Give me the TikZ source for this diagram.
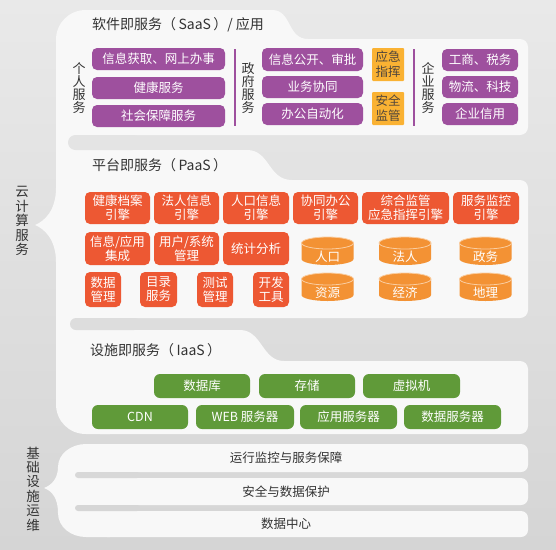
\documentclass[tikz,border=0pt]{standalone}
\usepackage{fontspec}
\setmainfont{Noto Sans CJK SC}
\definecolor{purp}{RGB}{158,80,158}
\definecolor{yel}{RGB}{250,178,51}
\definecolor{ytext}{RGB}{80,70,60}
\definecolor{redc}{RGB}{237,88,51}
\definecolor{cylc}{RGB}{243,146,52}
\definecolor{cyledge}{RGB}{250,205,160}
\definecolor{grn}{RGB}{96,154,57}
\definecolor{panelc}{RGB}{248,248,248}
\definecolor{dark}{RGB}{51,51,51}
\definecolor{bgtop}{RGB}{233,233,233}
\definecolor{bgbot}{RGB}{213,213,213}
\definecolor{bandA}{RGB}{228,228,228}
\definecolor{bandB}{RGB}{221,221,221}
\definecolor{bandC}{RGB}{216,216,216}
\definecolor{bandD}{RGB}{214,214,214}
\newcommand\bx[7]{\node[#1, minimum width={(#5-#3)*1pt}, minimum height={(#6-#4)*1pt}] (#2) at ({(#3+#5)/2},{(#4+#6)/2}) {#7};}
\newcommand\dbcyl[4]{%
 \fill[cylc] ({#1-26},#2) -- ({#1-26},{#2+16}) arc[start angle=180, end angle=0, x radius=26, y radius=6] -- ({#1+26},#2) -- cycle;
 \draw[cyledge, fill=cylc, line width=0.8pt] (#1,#2) ellipse[x radius=26, y radius=6];
 \node[cyltxt] (#4) at (#1,{#2+13.5}) {#3};}
\begin{document}
\begin{tikzpicture}[x=1pt,y=-1pt,
  box/.style={inner sep=0pt, outer sep=0pt, align=center, rounded corners=5pt},
  pbox/.style={box, fill=purp, text=white, font=\fontsize{12.5}{14}\selectfont},
  ybox/.style={box, rounded corners=1pt, fill=yel, text=ytext, font=\fontsize{12.5}{15}\selectfont},
  rbox/.style={box, fill=redc, text=white, font=\fontsize{12.5}{14}\selectfont},
  gbox/.style={box, rounded corners=6pt, fill=grn, text=white, font=\fontsize{12.5}{14}\selectfont},
  ttl/.style={anchor=west, inner sep=0pt, text=dark, font=\fontsize{14}{16}\selectfont},
  vlab/.style={inner sep=0pt, align=center, text=dark, font=\fontsize{13}{13.2}\selectfont},
  biglab/.style={inner sep=0pt, align=center, text=dark, font=\fontsize{13.5}{14.4}\selectfont},
  rowt/.style={inner sep=0pt, text=dark, font=\fontsize{12.5}{14}\selectfont},
  cyltxt/.style={inner sep=0pt, text=white, font=\fontsize{12.5}{14}\selectfont},
  sep/.style={purp, line width=1.5pt},
]
\useasboundingbox (0,0) rectangle (556,549);
\begin{scope}[y=1pt]
\shade[top color=bgtop, bottom color=bgbot] (0,-549) rectangle (556,0);
\end{scope}

% cloud services white shape
\fill[panelc] (86,10) -- (110,10) -- (110,434) -- (86,434) .. controls (69,434) and (56,421) .. (56,404) -- (56,262) .. controls (56,240) and (45,229) .. (35,225) .. controls (45,221) and (56,210) .. (56,188) -- (56,40) .. controls (56,23) and (69,10) .. (86,10) -- cycle;
% SaaS panel
\fill[panelc] (100,10) -- (272,10) .. controls (292,10) and (287,39) .. (308,39) -- (520,39) .. controls (524.4,39) and (528,42.6) .. (528,47) -- (528,127) .. controls (528,131.4) and (524.4,135) .. (520,135) -- (100,135) -- cycle;
% PaaS panel
\fill[panelc] (100,150) -- (247,150) .. controls (270,150) and (268,180) .. (292,180) -- (520,180) .. controls (524.4,180) and (528,183.6) .. (528,188) -- (528,310) .. controls (528,314.4) and (524.4,318) .. (520,318) -- (100,318) -- cycle;
% IaaS panel
\fill[panelc] (100,330) -- (240,330) .. controls (262,330) and (262,361) .. (284,361) -- (520,361) .. controls (524.4,361) and (528,364.6) .. (528,369) -- (528,426) .. controls (528,430.4) and (524.4,434) .. (520,434) -- (100,434) -- cycle;
% gaps
\fill[bandA, rounded corners=7.5pt] (68,135) rectangle (140,150);
\fill[bandB, rounded corners=6pt] (70,318) rectangle (140,330);

% infrastructure ops shape
\fill[panelc] (86,444) -- (110,444) -- (110,537) -- (86,537) .. controls (71,537) and (58,527) .. (58,513) .. controls (58,498) and (52,491) .. (44,488) .. controls (52,485) and (58,478) .. (58,467) .. controls (58,454) and (71,444) .. (86,444) -- cycle;
\fill[panelc, rounded corners=7pt] (100,444) rectangle (528,472);
\fill[panelc, rounded corners=7pt] (100,478) rectangle (528,505);
\fill[panelc, rounded corners=7pt] (100,511) rectangle (528,537);
\fill[bandC, rounded corners=3pt] (75,472) rectangle (140,478);
\fill[bandD, rounded corners=3pt] (75,505) rectangle (140,511);

% side labels
\node[biglab] (cloud) at (22,221) {云\\计\\算\\服\\务};
\node[biglab] (infra) at (33,489) {基\\础\\设\\施\\运\\维};

% SaaS
\node[ttl] (saas) at (92,25) {软件即服务（\,SaaS\,）/ 应用};
\node[vlab] (pers) at (79,88) {个\\人\\服\\务};
\bx{pbox}{p1}{92}{48}{225}{70}{信息获取、网上办事}
\bx{pbox}{p2}{92}{77}{225}{99}{健康服务}
\bx{pbox}{p3}{92}{105}{225}{127}{社会保障服务}
\coordinate (s1a) at (235,49); \coordinate (s1b) at (235,126);
\draw[sep] (s1a) -- (s1b);
\node[vlab] (gov) at (248,88) {政\\府\\服\\务};
\bx{pbox}{g1}{262}{48}{363}{71}{信息公开、审批}
\bx{pbox}{g2}{262}{76}{363}{98}{业务协同}
\bx{pbox}{g3}{262}{103}{363}{125}{办公自动化}
\bx{ybox}{y1}{372}{48}{404}{81}{应急\\指挥}
\bx{ybox}{y2}{372}{92}{404}{125}{安全\\监管}
\coordinate (s2a) at (414,49); \coordinate (s2b) at (414,126);
\draw[sep] (s2a) -- (s2b);
\node[vlab] (ent) at (428,88) {企\\业\\服\\务};
\bx{pbox}{e1}{442}{49}{518}{71}{工商、税务}
\bx{pbox}{e2}{442}{76}{518}{98}{物流、科技}
\bx{pbox}{e3}{442}{103}{518}{125}{企业信用}

% PaaS
\node[ttl] (paas) at (92,165) {平台即服务（\,PaaS\,）};
\bx{rbox}{r1}{85}{192}{150}{224}{健康档案\\引擎}
\bx{rbox}{r2}{154}{192}{219}{224}{法人信息\\引擎}
\bx{rbox}{r3}{223}{192}{289}{224}{人口信息\\引擎}
\bx{rbox}{r4}{293}{192}{358}{224}{协同办公\\引擎}
\bx{rbox}{r5}{362}{192}{449}{224}{综合监管\\应急指挥引擎}
\bx{rbox}{r6}{453}{192}{519}{224}{服务监控\\引擎}
\bx{rbox}{r7}{85}{232}{150}{265}{信息/应用\\集成}
\bx{rbox}{r8}{154}{232}{219}{265}{用户/系统\\管理}
\bx{rbox}{r9}{223}{232}{289}{265}{统计分析}
\bx{rbox}{r10}{85}{272}{121}{307}{数据\\管理}
\bx{rbox}{r11}{140}{272}{177}{307}{目录\\服务}
\bx{rbox}{r12}{197}{272}{233}{307}{测试\\管理}
\bx{rbox}{r13}{253}{272}{289}{307}{开发\\工具}
\dbcyl{327.5}{243}{人口}{c1}
\dbcyl{405}{243}{法人}{c2}
\dbcyl{485.5}{243}{政务}{c3}
\dbcyl{327.5}{279}{资源}{c4}
\dbcyl{405}{279}{经济}{c5}
\dbcyl{485.5}{279}{地理}{c6}

% IaaS
\node[ttl] (iaas) at (90,350) {设施即服务（\,IaaS\,）};
\bx{gbox}{i1}{154}{374}{250}{398}{数据库}
\bx{gbox}{i2}{259}{374}{355}{398}{存储}
\bx{gbox}{i3}{363}{374}{460}{398}{虚拟机}
\bx{gbox}{i4}{92}{405}{188}{429}{CDN}
\bx{gbox}{i5}{196}{405}{294}{429}{WEB 服务器}
\bx{gbox}{i6}{300}{405}{397}{429}{应用服务器}
\bx{gbox}{i7}{404}{405}{501}{429}{数据服务器}

% infrastructure rows
\node[rowt] (o1) at (286,458) {运行监控与服务保障};
\node[rowt] (o2) at (286,491.5) {安全与数据保护};
\node[rowt] (o3) at (286,524) {数据中心};
\end{tikzpicture}
\end{document}
